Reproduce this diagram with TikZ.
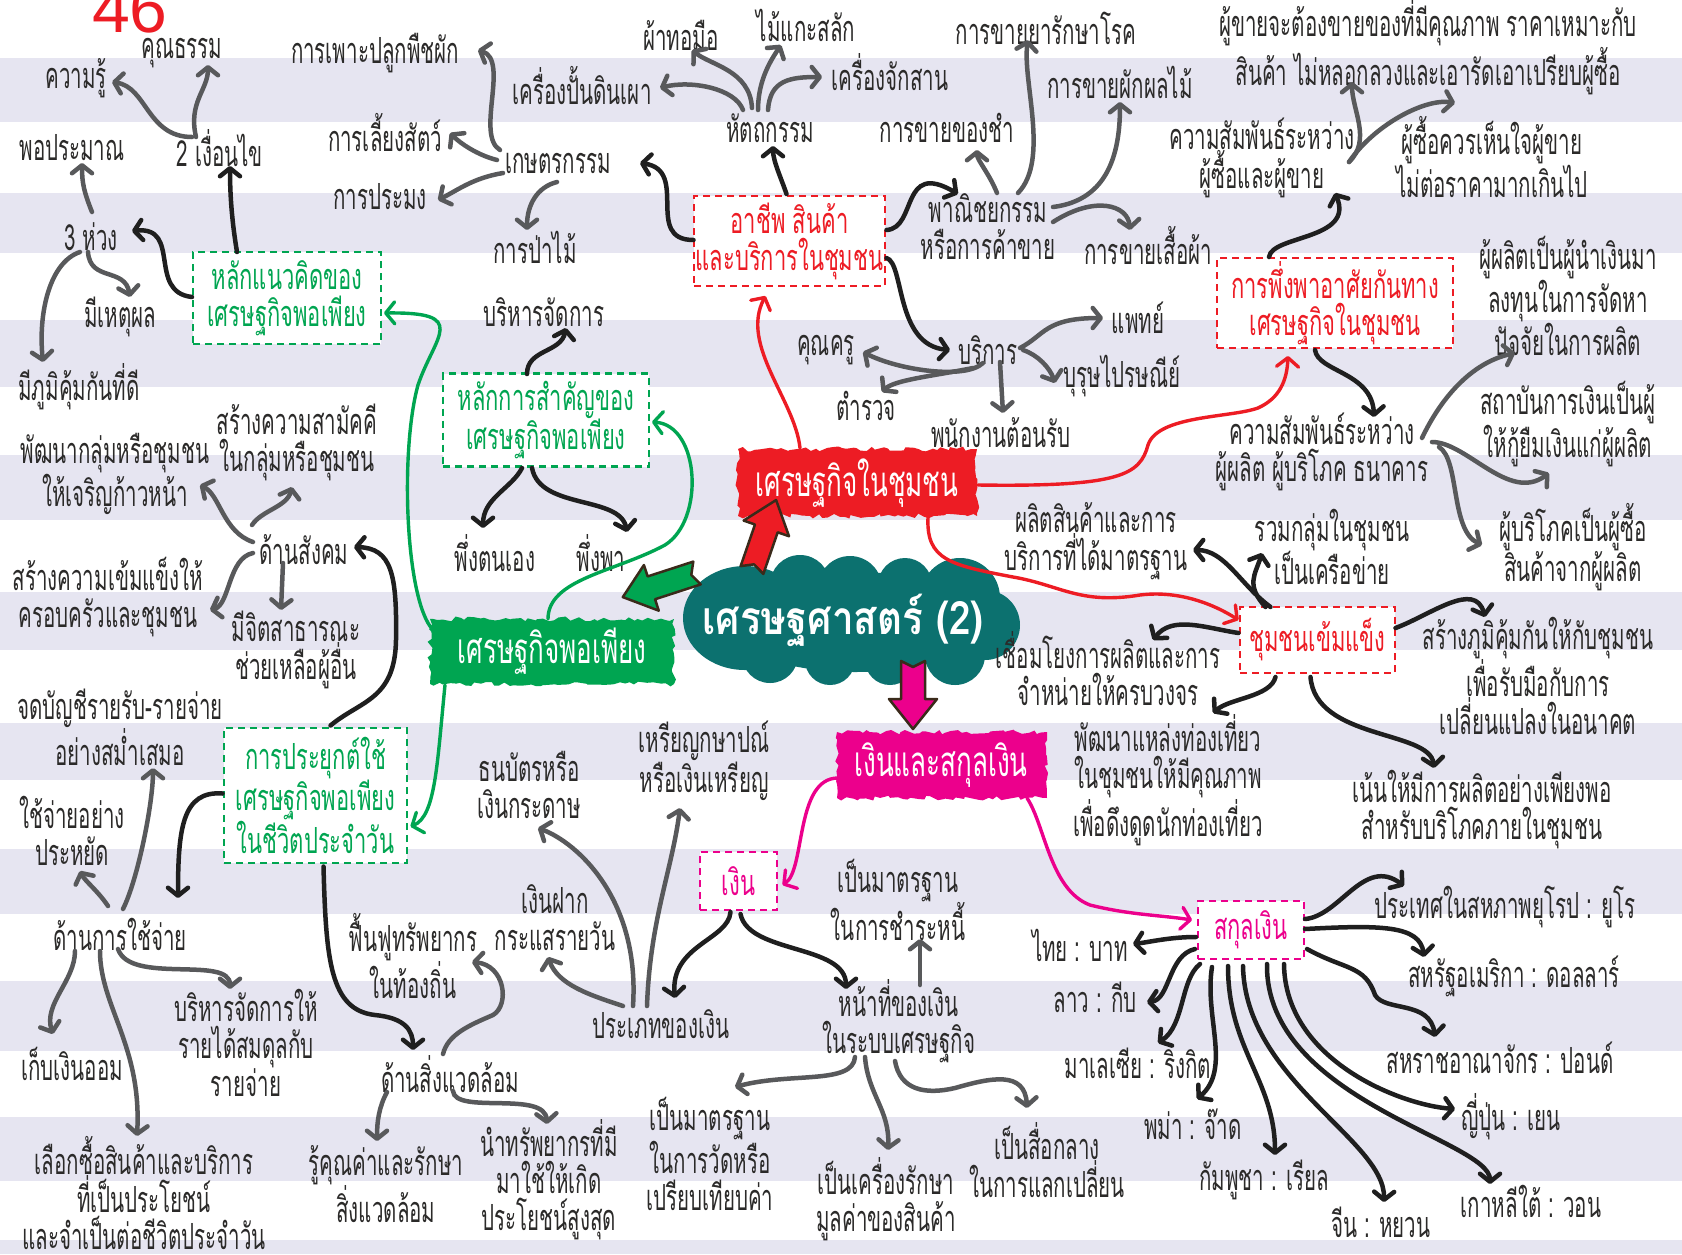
\documentclass[tikz,border=0pt]{standalone}
\usepackage{fontspec}
\usetikzlibrary{arrows.meta,calc,decorations.pathmorphing}
\newfontfamily\thaifont[Script=Thai,FakeStretch=0.57]{Loma}
\newfontfamily\boxfamily[Script=Thai,FakeStretch=0.61]{Loma}
\newfontfamily\bannerfamily[Script=Thai,FakeStretch=0.62]{Loma}
\newfontfamily\cloudfont[Script=Thai,FakeStretch=0.84]{Loma}
\newfontfamily\numfont{Liberation Sans}
\definecolor{txtc}{HTML}{2B2A29}
\definecolor{greyc}{HTML}{58595B}
\definecolor{blackc}{HTML}{1F1F1F}
\definecolor{grn}{HTML}{00A551}
\definecolor{rd}{HTML}{ED1C24}
\definecolor{mg}{HTML}{EC008C}
\definecolor{cloudc}{HTML}{0C716F}
\definecolor{stripe}{HTML}{E6E5F1}
\definecolor{edgec}{HTML}{3A2A1A}
\newcommand\tf{\thaifont\fontsize{36}{37}\selectfont}
\newcommand\boxf{\boxfamily\fontsize{36}{37}\selectfont}
\newcommand\bannerfont{\bannerfamily\fontsize{42}{44}\selectfont}
\newcommand\blockarr[4]{%
\begin{scope}[shift={#2}, rotate=#3]
\filldraw[fill=#1, draw=edgec, line width=2.5pt, line join=round] (0,-12) -- (#4-30,-12) -- (#4-30,-24) -- (#4,0) -- (#4-30,24) -- (#4-30,12) -- (0,12) -- (6,0) -- cycle;
\end{scope}}
\begin{document}
\begin{tikzpicture}[x=1pt,y=-1pt,
 lbl/.style={text=txtc, font=\tf, align=center, inner sep=0pt},
 bann/.style={text=white, font=\bannerfont, align=center, inner sep=0pt},
 garr/.style={draw=greyc, line width=4.5pt, line cap=round, -{Straight Barb[length=8pt,width=20pt,round]}},
 barr/.style={draw=blackc, line width=4.5pt, line cap=round, -{Straight Barb[length=8pt,width=20pt,round]}},
 carr/.style={draw=#1, line width=3.4pt, line cap=round, -{Straight Barb[length=9pt,width=22pt,round]}},
 dbox/.style={draw=#1, text=#1, dash pattern=on 7pt off 5pt, line width=2.5pt, fill=white, align=center, inner sep=0pt, font=\boxf}]
\useasboundingbox (0,0) rectangle (1682,1254);
\fill[white] (0,0) rectangle (1682,1254);
\foreach \a/\b in {58/122,193/253,320/387,455/520,592/650,723/780,849/914,981/1051,1117/1181,1240/1254}
  \fill[stripe] (0,\a) rectangle (1682,\b);
\node[text=rd, font=\numfont\fontsize{68}{68}\selectfont, anchor=base, inner sep=0pt] (pg) at (130,32) {46};

% cloud
\fill[cloudc] (745,618) ellipse [x radius=62, y radius=52];
\fill[cloudc] (855,622) ellipse [x radius=130, y radius=50];
\foreach \cx/\cy/\r in {800/585/30,850/588/32,905/585/27,960/598/40,985/625/35,955/655/30,890/660/25,830/660/25,770/655/28}
  \fill[cloudc] (\cx,\cy) circle [radius=\r];
\node[text=white, font=\cloudfont\bfseries\fontsize{46}{48}\selectfont, inner sep=0pt] (cloud) at (843,620) {เศรษฐศาสตร์ (2)};

% banners
\pgfmathsetseed{3}
\fill[rd, decorate, decoration={random steps,segment length=5pt,amplitude=2.5pt}] (738,449) rectangle (977,516);
\node[bann] (ec) at (857,483) {เศรษฐกิจในชุมชน};
\fill[grn, decorate, decoration={random steps,segment length=5pt,amplitude=2.5pt}] (430,619) rectangle (674,684);
\node[bann] (sp) at (552,651) {เศรษฐกิจพอเพียง};
\fill[mg, decorate, decoration={random steps,segment length=5pt,amplitude=2.5pt}] (837,732) rectangle (1047,798);
\node[bann] (ms) at (941,765) {เงินและสกุลเงิน};

\blockarr{rd}{($(cloud)+(-91,-50)$)}{71}{74}
\blockarr{grn}{($(cloud)+(-146,-47)$)}{198}{78}
\blockarr{mg}{($(cloud)+(70,41)$)}{-90}{68}

% dashed boxes
\node[dbox=grn, minimum width=188pt, minimum height=92pt] (kn) at (287,298) {หลักแนวคิดของ\\เศรษฐกิจพอเพียง};
\node[dbox=grn, minimum width=206pt, minimum height=93pt] (kp) at (546,420) {หลักการสำคัญของ\\เศรษฐกิจพอเพียง};
\node[dbox=grn, minimum width=183pt, minimum height=135pt] (pa) at (315.5,795.5) {การประยุกต์ใช้\\เศรษฐกิจพอเพียง\\ในชีวิตประจำวัน};
\node[dbox=rd, minimum width=191pt, minimum height=90pt] (oc) at (789.5,241) {อาชีพ สินค้า\\และบริการในชุมชน};
\node[dbox=rd, minimum width=236pt, minimum height=90pt] (dp) at (1335,303) {การพึ่งพาอาศัยกันทาง\\เศรษฐกิจในชุมชน};
\node[dbox=rd, minimum width=155pt, minimum height=66pt] (cs) at (1317.5,640) {ชุมชนเข้มแข็ง};
\node[dbox=mg, minimum width=77pt, minimum height=58pt] (mo) at (738.5,881) {เงิน};
\node[dbox=mg, minimum width=106pt, minimum height=58pt] (cu) at (1251,930) {สกุลเงิน};

% labels
\node[lbl] (kun) at (182,53) {คุณธรรม};
\node[lbl] (kwam) at (76,78) {ความรู้};
\node[lbl] (pho) at (72,148) {พอประมาณ};
\node[lbl] (cond) at (220,148) {2 เงื่อนไข};
\node[lbl] (h3) at (91,237) {3 ห่วง};
\node[lbl] (mihet) at (120,317) {มีเหตุผล};
\node[lbl] (phum) at (79,387) {มีภูมิคุ้มกันที่ดี};
\node[lbl] (plant) at (375,53) {การเพาะปลูกพืชผัก};
\node[lbl] (animal) at (385,133) {การเลี้ยงสัตว์};
\node[lbl] (fish) at (380,197) {การประมง};
\node[lbl] (agri) at (558,163) {เกษตรกรรม};
\node[lbl] (forest) at (535,247) {การป่าไม้};
\node[lbl] (pottery) at (582,86) {เครื่องปั้นดินเผา};
\node[lbl] (weave) at (681,35) {ผ้าทอมือ};
\node[lbl] (carve) at (806,25) {ไม้แกะสลัก};
\node[lbl] (craft) at (770,128) {หัตถกรรม};
\node[lbl] (basket) at (890,72) {เครื่องจักสาน};
\node[lbl] (manage) at (544,312) {บริหารจัดการ};
\node[lbl] (teacher) at (826,350) {คุณครู};
\node[lbl] (police) at (866,406) {ตำรวจ};
\node[lbl] (medsale) at (1046,28) {การขายยารักษาโรค};
\node[lbl] (fruit) at (1120,82) {การขายผักผลไม้};
\node[lbl] (grocery) at (947,128) {การขายของชำ};
\node[lbl] (comm) at (988,227) {พาณิชยกรรม\\หรือการค้าขาย};
\node[lbl] (cloth) at (1148,246) {การขายเสื้อผ้า};
\node[lbl] (rb) at (1262,158) {ความสัมพันธ์ระหว่าง\\ผู้ซื้อและผู้ขาย};
\node[lbl] (doctor) at (1138,318) {แพทย์};
\node[lbl] (service) at (988,350) {บริการ};
\node[lbl] (postman) at (1122,376) {บุรุษไปรษณีย์};
\node[lbl] (recept) at (1001,433) {พนักงานต้อนรับ};
\node[lbl] (seller) at (1428,47) {ผู้ขายจะต้องขายของที่มีคุณภาพ ราคาเหมาะกับ\\สินค้า ไม่หลอกลวงและเอารัดเอาเปรียบผู้ซื้อ};
\node[lbl] (buyer) at (1492,157) {ผู้ซื้อควรเห็นใจผู้ขาย\\ไม่ต่อราคามากเกินไป};
\node[lbl] (producer) at (1568,296) {ผู้ผลิตเป็นผู้นำเงินมา\\ลงทุนในการจัดหา\\ปัจจัยในการผลิต};
\node[lbl] (bank) at (1568,424) {สถาบันการเงินเป็นผู้\\ให้กู้ยืมเงินแก่ผู้ผลิต};
\node[lbl] (unity) at (297,442) {สร้างความสามัคคี\\ในกลุ่มหรือชุมชน};
\node[lbl] (develop) at (115,474) {พัฒนากลุ่มหรือชุมชน\\ให้เจริญก้าวหน้า};
\node[lbl] (social) at (304,550) {ด้านสังคม};
\node[lbl] (strong) at (108,597) {สร้างความเข้มแข็งให้\\ครอบครัวและชุมชน};
\node[lbl] (public) at (296,650) {มีจิตสาธารณะ\\ช่วยเหลือผู้อื่น};
\node[lbl] (account) at (120,727) {จดบัญชีรายรับ-รายจ่าย\\อย่างสม่ำเสมอ};
\node[lbl] (thrift) at (72,831) {ใช้จ่ายอย่าง\\ประหยัด};
\node[lbl] (self) at (495,553) {พึ่งตนเอง};
\node[lbl] (rely) at (601,553) {พึ่งพา};
\node[lbl] (note) at (529,785) {ธนบัตรหรือ\\เงินกระดาษ};
\node[lbl] (coin) at (704,761) {เหรียญกษาปณ์\\หรือเงินเหรียญ};
\node[lbl] (stdprod) at (1096,541) {ผลิตสินค้าและการ\\บริการที่ได้มาตรฐาน};
\node[lbl] (link) at (1108,669) {เชื่อมโยงการผลิตและการ\\จำหน่ายให้ครบวงจร};
\node[lbl] (tour) at (1168,780) {พัฒนาแหล่งท่องเที่ยว\\ในชุมชนให้มีคุณภาพ\\เพื่อดึงดูดนักท่องเที่ยว};
\node[lbl] (rp) at (1322,452) {ความสัมพันธ์ระหว่าง\\ผู้ผลิต ผู้บริโภค ธนาคาร};
\node[lbl] (group) at (1332,547) {รวมกลุ่มในชุมชน\\เป็นเครือข่าย};
\node[lbl] (consumer) at (1573,547) {ผู้บริโภคเป็นผู้ซื้อ\\สินค้าจากผู้ผลิต};
\node[lbl] (immune) at (1538,676) {สร้างภูมิคุ้มกันให้กับชุมชน\\เพื่อรับมือกับการ\\เปลี่ยนแปลงในอนาคต};
\node[lbl] (enough) at (1482,810) {เน้นให้มีการผลิตอย่างเพียงพอ\\สำหรับบริโภคภายในชุมชน};
\node[lbl] (spend) at (120,934) {ด้านการใช้จ่าย};
\node[lbl] (balance) at (246,1043) {บริหารจัดการให้\\รายได้สมดุลกับ\\รายจ่าย};
\node[lbl] (save) at (72,1064) {เก็บเงินออม};
\node[lbl] (choose) at (144,1193) {เลือกซื้อสินค้าและบริการ\\ที่เป็นประโยชน์\\และจำเป็นต่อชีวิตประจำวัน};
\node[lbl] (restore) at (413,956) {ฟื้นฟูทรัพยากร\\ในท้องถิ่น};
\node[lbl] (env) at (450,1074) {ด้านสิ่งแวดล้อม};
\node[lbl] (value) at (386,1184) {รู้คุณค่าและรักษา\\สิ่งแวดล้อม};
\node[lbl] (deposit) at (555,918) {เงินฝาก\\กระแสรายวัน};
\node[lbl] (mtype) at (661,1024) {ประเภทของเงิน};
\node[lbl] (useres) at (549,1180) {นำทรัพยากรที่มี\\มาใช้ให้เกิด\\ประโยชน์สูงสุด};
\node[lbl] (measure) at (710,1154) {เป็นมาตรฐาน\\ในการวัดหรือ\\เปรียบเทียบค่า};
\node[lbl] (debt) at (898,900) {เป็นมาตรฐาน\\ในการชำระหนี้};
\node[lbl] (func) at (899,1021) {หน้าที่ของเงิน\\ในระบบเศรษฐกิจ};
\node[lbl] (store) at (886,1199) {เป็นเครื่องรักษา\\มูลค่าของสินค้า};
\node[lbl] (medium) at (1047,1160) {เป็นสื่อกลาง\\ในการแลกเปลี่ยน};
\node[lbl] (thai) at (1080,945) {ไทย : บาท};
\node[lbl] (lao) at (1095,997) {ลาว : กีบ};
\node[lbl] (malay) at (1138,1063) {มาเลเซีย : ริงกิต};
\node[lbl] (burma) at (1193,1124) {พม่า : จ๊าด};
\node[lbl] (cambo) at (1264,1180) {กัมพูชา : เรียล};
\node[lbl] (euro) at (1505,907) {ประเทศในสหภาพยุโรป : ยูโร};
\node[lbl] (usa) at (1514,976) {สหรัฐอเมริกา : ดอลลาร์};
\node[lbl] (uk) at (1500,1058) {สหราชอาณาจักร : ปอนด์};
\node[lbl] (japan) at (1511,1117) {ญี่ปุ่น : เยน};
\node[lbl] (china) at (1381,1222) {จีน : หยวน};
\node[lbl] (korea) at (1531,1201) {เกาหลีใต้ : วอน};

% connectors: top-left
\draw[barr] ($(kn)+(-50,-46)$) .. controls +(-5,-30) and +(0,30) .. ($(cond)+(10,18)$);
\draw[barr] ($(kn)+(-95,-1)$) .. controls +(-45,-5) and +(50,-5) .. ($(h3)+(41,-6)$);
\draw[garr] ($(cond)+(-28,-11)$) .. controls +(-45,0) and +(35,5) .. ($(kwam)+(36,4)$);
\draw[garr] ($(cond)+(-24,-11)$) .. controls +(-8,-35) and +(0,25) .. ($(kun)+(26,12)$);
\draw[garr] ($(h3)+(1,-25)$) .. controls +(-8,-20) and +(0,20) .. ($(pho)+(10,15)$);
\draw[garr] ($(h3)+(-3,15)$) .. controls +(2,30) and +(-5,-30) .. ($(mihet)+(10,-20)$);
\draw[garr] ($(h3)+(-11,15)$) .. controls +(-30,10) and +(-5,-50) .. ($(phum)+(-36,-25)$);

% green branch
\draw[carr=grn] ($(sp)+(-119,-21)$) .. controls (405,600) and (400,450) .. (418,385) .. controls (435,335) and (470,312) .. ($(kn)+(97,15)$);
\draw[carr=grn] ($(sp)+(-4,-32)$) .. controls +(0,-40) and (615,572) .. (665,545) .. controls (705,520) and (700,425) .. ($(kp)+(106,2)$);
\draw[carr=grn] ($(sp)+(-107,34)$) .. controls +(-8,80) and +(25,-10) .. ($(pa)+(95,31)$);

\draw[barr] ($(kp)+(-19,-46)$) .. controls +(0,-25) and +(-5,25) .. ($(manage)+(22,16)$);
\draw[barr] ($(kp)+(-24,48)$) .. controls +(-10,20) and +(0,-30) .. ($(self)+(-12,-25)$);
\draw[barr] ($(kp)+(-14,48)$) .. controls (540,510) and (620,495) .. ($(rely)+(26,-21)$);

\draw[barr] ($(pa)+(15,-70)$) .. controls +(30,-25) and (395,700) .. (396,640) .. controls (397,575) and (392,548) .. ($(social)+(50,-3)$);
\draw[barr] ($(pa)+(-93,-2)$) .. controls +(-40,-3) and +(0,-70) .. ($(spend)+(58,-36)$);
\draw[barr] ($(pa)+(8,71)$) .. controls (326,960) and (330,1010) .. (375,1015) .. controls (405,1018) and (413,1030) .. ($(env)+(-37,-24)$);

\draw[garr] ($(social)+(-51,-8)$) .. controls +(-30,-10) and +(20,10) .. ($(develop)+(85,11)$);
\draw[garr] ($(social)+(-52,-25)$) .. controls +(10,-15) and +(-5,20) .. ($(unity)+(-5,45)$);
\draw[garr] ($(social)+(-51,3)$) .. controls +(-25,5) and +(20,-5) .. ($(strong)+(102,13)$);
\draw[garr] ($(social)+(-21,13)$) -- ($(public)+(-15,-40)$);

\draw[garr] ($(spend)+(3,-25)$) .. controls +(15,-30) and +(0,35) .. ($(account)+(33,41)$);
\draw[garr] ($(spend)+(-12,-28)$) .. controls +(-10,-15) and +(5,10) .. ($(thrift)+(8,40)$);
\draw[garr] ($(spend)+(-45,17)$) .. controls +(0,30) and +(-10,-30) .. ($(save)+(-19,-30)$);
\draw[garr] ($(spend)+(-20,17)$) .. controls +(0,55) and +(5,-90) .. ($(choose)+(-7,-57)$);
\draw[garr] ($(spend)+(-2,15)$) .. controls +(12,36) and +(0,-34) .. ($(balance)+(-16,-54)$);

\draw[garr] ($(env)+(-7,-20)$) .. controls +(5,-20) and (470,1025) .. (493,1015) .. controls (510,1005) and (505,965) .. ($(restore)+(59,6)$);
\draw[garr] ($(env)+(-63,18)$) .. controls +(-8,15) and +(0,-20) .. ($(value)+(-9,-43)$);
\draw[garr] ($(env)+(3,17)$) .. controls (455,1115) and (545,1090) .. ($(useres)+(-2,-56)$);

% red branch
\draw[carr=rd] ($(ec)+(-57,-35)$) .. controls +(-5,-48) and +(-26,49) .. ($(oc)+(-24,55)$);
\draw[carr=rd] ($(ec)+(121,2)$) .. controls (1120,487) and (1140,475) .. (1148,445) .. controls (1158,415) and (1230,418) .. (1258,408) .. controls (1280,398) and (1287,380) .. ($(dp)+(-47,53)$);
\draw[carr=rd] ($(ec)+(71,34)$) .. controls (926,560) and (950,565) .. (1013,577) .. controls (1060,585) and (1080,605) .. (1140,595) .. controls (1180,590) and (1215,605) .. ($(cs)+(-79,-20)$);

\draw[barr] ($(oc)+(-3,-47)$) .. controls +(-5,-15) and +(0,15) .. ($(craft)+(3,18)$);
\draw[barr] ($(oc)+(-96,-1)$) .. controls +(-50,0) and +(50,7) .. ($(agri)+(82,0)$);
\draw[barr] ($(oc)+(97,-11)$) .. controls +(31,-2) and +(-58,-34) .. ($(comm)+(-30,-33)$);
\draw[barr] ($(oc)+(97,17)$) .. controls +(18,5) and +(-55,-5) .. ($(service)+(-38,0)$);

\draw[garr] ($(agri)+(-58,-13)$) .. controls +(-25,-15) and +(32,10) .. ($(plant)+(103,-3)$);
\draw[garr] ($(agri)+(-61,-3)$) .. controls +(-20,-5) and +(10,10) .. ($(animal)+(65,0)$);
\draw[garr] ($(agri)+(-55,10)$) .. controls +(-30,5) and +(20,-10) .. ($(fish)+(58,3)$);
\draw[garr] ($(agri)+(-1,19)$) .. controls +(-20,5) and +(0,-25) .. ($(forest)+(-8,-17)$);

\draw[garr] ($(craft)+(-27,-18)$) .. controls +(-8,-22) and +(30,-8) .. ($(pottery)+(78,2)$);
\draw[garr] ($(craft)+(-18,-20)$) .. controls +(-2,-38) and +(18,15) .. ($(weave)+(11,15)$);
\draw[garr] ($(craft)+(-12,-18)$) .. controls +(0,-30) and +(-10,15) .. ($(carve)+(-25,20)$);
\draw[garr] ($(craft)+(-2,-18)$) .. controls +(2,-30) and +(-32,0) .. ($(basket)+(-68,5)$);

\draw[garr] ($(comm)+(9,-34)$) .. controls +(-8,-20) and +(0,10) .. ($(grocery)+(30,22)$);
\draw[garr] ($(comm)+(30,-34)$) .. controls +(32,-33) and +(-6,40) .. ($(medsale)+(-18,12)$);
\draw[garr] ($(comm)+(65,-20)$) .. controls +(57,-7) and +(0,48) .. ($(fruit)+(0,20)$);
\draw[garr] ($(comm)+(65,-5)$) .. controls +(42,-27) and +(-2,-25) .. ($(cloth)+(-18,-16)$);

\draw[garr] ($(service)+(32,-2)$) .. controls +(25,-13) and +(-58,0) .. ($(doctor)+(-35,0)$);
\draw[garr] ($(service)+(35,0)$) .. controls +(15,5) and +(-5,-15) .. ($(postman)+(-67,7)$);
\draw[garr] ($(service)+(-5,13)$) .. controls +(-18,17) and +(35,18) .. ($(teacher)+(37,2)$);
\draw[garr] ($(service)+(-15,18)$) .. controls +(-40,8) and +(12,-12) .. ($(police)+(16,-14)$);
\draw[garr] ($(service)+(12,12)$) -- ($(recept)+(2,-20)$);

\draw[barr] ($(dp)+(-66,-46)$) .. controls +(3,-22) and +(20,47) .. ($(rb)+(73,35)$);
\draw[barr] ($(dp)+(-20,47)$) .. controls +(3,22) and +(-2,-45) .. ($(rp)+(52,-35)$);
\draw[garr] ($(rb)+(87,4)$) .. controls +(23,-22) and +(0,28) .. ($(seller)+(-76,35)$);
\draw[garr] ($(rb)+(87,4)$) .. controls +(25,-37) and +(-30,-5) .. ($(buyer)+(-37,-54)$);
\draw[garr] ($(rp)+(100,-14)$) .. controls +(18,-38) and +(-45,10) .. ($(producer)+(-53,57)$);
\draw[garr] ($(rp)+(110,-10)$) .. controls +(35,0) and +(-40,30) .. ($(bank)+(-19,49)$);
\draw[garr] ($(rp)+(117,-5)$) .. controls +(21,13) and +(-32,-15) .. ($(consumer)+(-91,-2)$);

\draw[barr] ($(cs)+(-47,-33)$) .. controls +(-30,-22) and +(32,0) .. ($(stdprod)+(97,9)$);
\draw[barr] ($(cs)+(-52,-33)$) .. controls +(-20,-22) and +(-7,22) .. ($(group)+(-70,6)$);
\draw[barr] ($(cs)+(-79,-7)$) .. controls +(-33,-5) and +(19,-25) .. ($(link)+(45,-29)$);
\draw[barr] ($(cs)+(-42,37)$) .. controls +(-5,20) and +(17,-15) .. ($(tour)+(45,-67)$);
\draw[barr] ($(cs)+(78,-12)$) .. controls +(35,-13) and +(-10,-37) .. ($(immune)+(-53,-59)$);
\draw[barr] ($(cs)+(-7,37)$) .. controls +(5,63) and +(-4,-38) .. ($(enough)+(-48,-42)$);

% magenta branch
\draw[carr=mg] ($(ms)+(-103,13)$) .. controls +(-43,0) and +(23,-15) .. ($(mo)+(44,4)$);
\draw[carr=mg] ($(ms)+(86,33)$) .. controls (1045,825) and (1050,890) .. (1090,905) .. controls (1130,915) and (1160,915) .. ($(cu)+(-59,-10)$);

\draw[barr] ($(mo)+(-8,31)$) .. controls +(-2,28) and +(-5,-53) .. ($(mtype)+(14,-26)$);
\draw[barr] ($(mo)+(2,33)$) .. controls +(8,40) and +(0,-45) .. ($(func)+(-53,-32)$);

\draw[garr] ($(mtype)+(-28,-18)$) .. controls +(7,-106) and +(40,15) .. ($(note)+(9,43)$);
\draw[garr] ($(mtype)+(-14,-18)$) .. controls +(3,-86) and +(-8,62) .. ($(coin)+(-24,47)$);
\draw[garr] ($(mtype)+(-38,-18)$) .. controls +(-33,-11) and +(10,28) .. ($(deposit)+(-7,39)$);

\draw[garr] ($(func)+(21,-36)$) -- ($(debt)+(22,39)$);
\draw[garr] ($(func)+(-44,36)$) .. controls +(-2,28) and +(55,-15) .. ($(measure)+(25,-67)$);
\draw[garr] ($(func)+(-34,36)$) .. controls +(3,38) and +(2,-40) .. ($(store)+(2,-49)$);
\draw[garr] ($(func)+(-4,40)$) .. controls (900,1090) and (925,1095) .. (955,1088) .. controls (990,1078) and (1025,1070) .. ($(medium)+(-20,-52)$);

\draw[barr] ($(cu)+(-55,7)$) .. controls +(-26,0) and +(17,-2) .. ($(thai)+(53,-1)$);
\draw[barr] ($(cu)+(-56,19)$) .. controls +(-27,6) and +(23,-2) .. ($(lao)+(52,5)$);
\draw[barr] ($(cu)+(-51,34)$) .. controls +(-20,16) and +(27,-18) .. ($(malay)+(20,-20)$);
\draw[barr] ($(cu)+(-39,37)$) .. controls +(-8,50) and +(35,-30) .. ($(burma)+(4,-25)$);
\draw[barr] ($(cu)+(-23,36)$) .. controls +(0,84) and +(0,-75) .. ($(cambo)+(11,-25)$);
\draw[barr] ($(cu)+(-8,36)$) .. controls +(2,114) and +(1,-62) .. ($(china)+(3,-20)$);
\draw[barr] ($(cu)+(16,34)$) .. controls +(-2,136) and +(0,-44) .. ($(korea)+(-41,-17)$);
\draw[barr] ($(cu)+(33,34)$) .. controls +(1,96) and +(-55,-4) .. ($(japan)+(-56,-8)$);
\draw[barr] ($(cu)+(56,19)$) .. controls (1345,970) and (1365,965) .. (1375,995) .. controls (1385,1012) and (1430,1000) .. ($(uk)+(-65,-21)$);
\draw[barr] ($(cu)+(54,-1)$) .. controls +(75,-4) and +(-4,-32) .. ($(usa)+(-90,-19)$);
\draw[barr] ($(cu)+(54,-11)$) .. controls +(35,-3) and +(-40,-30) .. ($(euro)+(-101,-21)$);
\end{tikzpicture}
\end{document}
